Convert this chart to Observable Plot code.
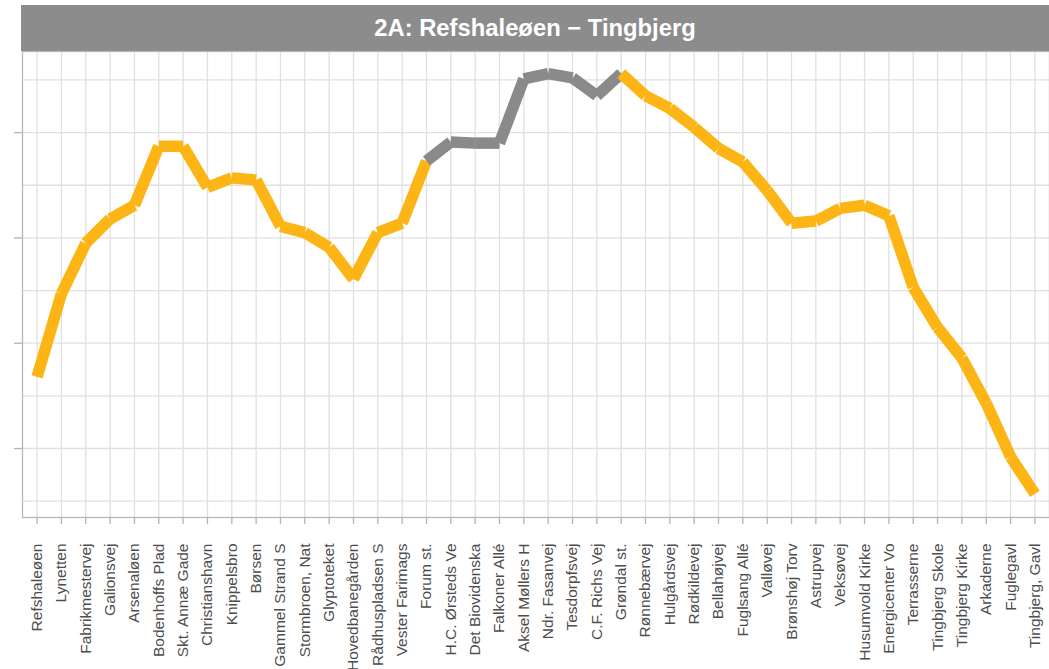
<!DOCTYPE html>
<html>
<head>
<meta charset="utf-8">
<script src="https://cdn.jsdelivr.net/npm/d3@7"></script>
<script src="https://cdn.jsdelivr.net/npm/@observablehq/plot@0.6"></script>
<style>
  html, body { margin: 0; padding: 0; background: #fff; }
  body { width: 1049px; height: 669px; overflow: hidden; font-family: "Liberation Sans", Arial, sans-serif; }
  #strip {
    margin: 5px 0 0 21px; width: 1028px; height: 46px; background: #8c8c8c;
    color: #fff; font-weight: bold; font-size: 23.8px; line-height: 46px; text-align: center;
  }
  #chart svg { display: block; font-family: "Liberation Sans", Arial, sans-serif; }
</style>
</head>
<body>
<div id="strip">2A: Refshaleøen − Tingbjerg</div>
<div id="chart"></div>
<script>
const title = "2A: Refshaleøen − Tingbjerg";

const stops = [
  "Refshaleøen", "Lynetten", "Fabrikmestervej", "Galionsvej", "Arsenaløen",
  "Bodenhoffs Plad", "Skt. Annæ Gade", "Christianshavn", "Knippelsbro", "Børsen",
  "Gammel Strand S", "Stormbroen, Nat", "Glyptoteket", "Hovedbanegården", "Rådhuspladsen S",
  "Vester Farimags", "Forum st.", "H.C. Ørsteds Ve", "Det Biovidenska", "Falkoner Allé",
  "Aksel Møllers H", "Ndr. Fasanvej", "Tesdorpfsvej", "C.F. Richs Vej", "Grøndal st.",
  "Rønnebærvej", "Hulgårdsvej", "Rødkildevej", "Bellahøjvej", "Fuglsang Allé",
  "Valløvej", "Brønshøj Torv", "Astrupvej", "Veksøvej", "Husumvold Kirke",
  "Energicenter Vo", "Terrasserne", "Tingbjerg Skole", "Tingbjerg Kirke", "Arkaderne",
  "Fuglegavl", "Tingbjerg, Gavl"
];

const values = [
  16.8, 24.7, 29.5, 31.8, 33.1,
  38.7, 38.7, 34.8, 35.7, 35.5,
  31.1, 30.5, 29.1, 26.1, 30.5,
  31.4, 37.3, 39.1, 39.0, 39.0,
  45.1, 45.6, 45.2, 43.5, 45.6,
  43.5, 42.3, 40.5, 38.5, 37.2,
  34.5, 31.4, 31.6, 32.8, 33.1,
  32.1, 25.3, 21.5, 18.6, 14.3,
  9.2, 5.7
];

// section of the route drawn in grey (from first to last stop of it)
const greyFrom = "Forum st.";
const greyTo = "Grøndal st.";

const yMajor = [10, 20, 30, 40];
const yGrid = [5, 10, 15, 20, 25, 30, 35, 40, 45];

const orange = "#fdb515";
const grey = "#8a8a8a";

const gi0 = stops.indexOf(greyFrom), gi1 = stops.indexOf(greyTo);
const segs = [];
for (let i = 0; i < stops.length - 1; i++) {
  segs.push({a: stops[i], b: stops[i + 1], ya: values[i], yb: values[i + 1],
             c: (i >= gi0 && i < gi1) ? grey : orange});
}

const plot = Plot.plot({
  width: 1049,
  height: 618,
  marginTop: 0,
  marginLeft: 22,
  marginRight: 0,
  marginBottom: 152,
  style: {fontFamily: '"Liberation Sans", Arial, sans-serif', background: "#fff"},
  x: {type: "point", domain: stops, padding: 0.6, round: false, label: null},
  y: {domain: [3.45, 47.7], label: null},
  color: {type: "identity"},
  marks: [
    Plot.gridY(yGrid, {stroke: "#e0e0e0", strokeOpacity: 1, strokeWidth: 1.3}),
    Plot.gridX(stops, {stroke: "#e0e0e0", strokeOpacity: 1, strokeWidth: 1.3}),
    Plot.frame({stroke: "#b8b8b8", strokeWidth: 1.3}),
    Plot.axisY(yMajor, {tickSize: 8, tickFormat: () => "", stroke: "#b3b3b3", strokeWidth: 1.3, label: null}),
    Plot.axisX({tickSize: 7, tickPadding: 19, tickRotate: -90, stroke: "#b3b3b3", strokeWidth: 1.3,
                fill: "#4d4d4d", fontSize: 15.5, label: null}),
    Plot.link(segs, {x1: "a", x2: "b", y1: "ya", y2: "yb", stroke: "c", strokeWidth: 11.5, strokeLinecap: "butt"})
  ]
});
document.getElementById("chart").appendChild(plot);
</script>
</body>
</html>
